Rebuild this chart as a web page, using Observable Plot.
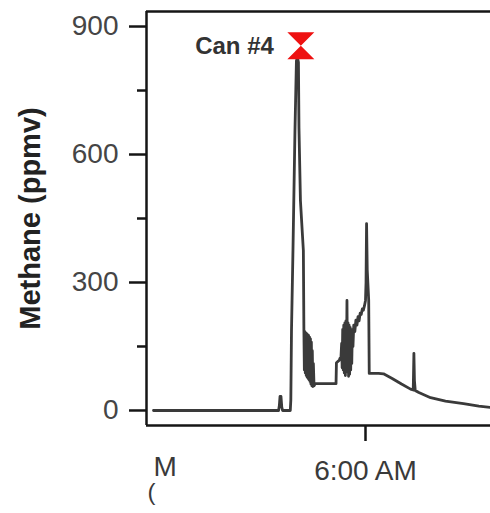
<!DOCTYPE html>
<html>
<head>
<meta charset="utf-8">
<script src="https://cdn.jsdelivr.net/npm/d3@7"></script>
<script src="https://cdn.jsdelivr.net/npm/@observablehq/plot@0.6"></script>
<style>
  html, body { margin: 0; padding: 0; background: #fff; }
  #chart { width: 490px; height: 513px; overflow: hidden; }
</style>
</head>
<body>
<div id="chart"></div>
<script>
// Time in minutes since midnight, methane in ppmv
const minutes = [201, 294.8, 295.4, 295.9, 296.6, 297.2, 297.8, 303.6, 304.0, 304.5, 305.6, 307.1, 308.2, 309.0, 309.7, 310.1, 311.2, 313.4, 313.8,
  314.15, 314.5, 314.85, 315.2, 315.55, 315.9, 316.25, 316.6, 316.95, 317.3, 317.65, 318.0, 318.35, 318.7, 319.05, 319.4, 319.75, 320.1, 320.5, 320.9, 321.4, 322.3,
  337.9, 338.2, 340.4, 340.8, 341.6, 342.1, 342.5, 342.9, 343.3, 343.7, 344.1, 344.5, 344.9, 345.3, 345.7, 346.1, 346.5, 346.9, 347.3, 347.7, 348.1, 348.5, 348.9, 349.3, 349.7, 350.1, 350.6, 351.2, 352.0, 352.8, 353.6, 354.4, 355.2, 356.0, 356.8, 357.6, 358.4, 359.2, 360.0, 360.4, 360.8, 361.3, 362.4, 362.8,
  369.8, 373.5, 380.0, 387.0, 393.8, 395.8, 396.3, 396.7, 397.3, 400.0, 408.8, 420.0, 433.5, 445.0, 453.75];
const methane = [0, 0, 12, 33, 33, 8, 0, 0, 25, 188, 375, 656, 820, 827, 816, 663, 492, 375, 188,
  95, 185, 88, 182, 82, 180, 78, 178, 75, 176, 72, 172, 68, 168, 62, 160, 58, 140, 56, 110, 58, 63,
  63, 112, 118, 122, 125, 157, 100, 190, 95, 200, 88, 205, 82, 210, 90, 258, 95, 205, 80, 200, 85, 195, 95, 190, 110, 185, 150, 200, 185, 212, 200, 220, 210, 228, 225, 238, 235, 245, 258, 300, 438, 330, 258, 87,
  87, 86, 75, 62, 50, 48, 134, 70, 47, 42, 30, 22, 16, 10, 7];

const yMajorTicks = [0, 300, 600, 900];
const yMinorTicks = [150, 450, 750];
const xTicks = [360];
const xTickLabels = ["6:00 AM"];
const canLabel = ["Can #4"];
const canTime = [311.5];
const canValue = [855];
const yTitle = "Methane (ppmv)";
const cutLabels = ["M", "("];

const data = minutes.map((m, i) => ({m, v: methane[i]}));
const cans = canLabel.map((t, i) => ({t, m: canTime[i], v: canValue[i]}));

const xDomain = [195.75, 453.75];
const yDomain = [-35.2, 935.2];

const hourglass = {
  draw(ctx, size) {
    const r = Math.sqrt(size / Math.PI);
    ctx.moveTo(-r, -r); ctx.lineTo(r, -r); ctx.lineTo(0, 0); ctx.closePath();
    ctx.moveTo(-r, r); ctx.lineTo(r, r); ctx.lineTo(0, 0); ctx.closePath();
  }
};

const font = "'Liberation Sans', Arial, Helvetica, sans-serif";
const axisColor = "#151515";

const chart = Plot.plot({
  width: 490,
  height: 513,
  marginLeft: 146,
  marginRight: 0,
  marginTop: 11,
  marginBottom: 88,
  style: {fontFamily: font, background: "#fff", overflow: "visible"},
  x: {domain: xDomain, type: "linear"},
  y: {domain: yDomain},
  marks: [
    Plot.axisY({ticks: yMajorTicks, tickSize: 17, tickPadding: 11, fontSize: 28, fill: "#454545", stroke: axisColor, strokeWidth: 2.5, label: null}),
    Plot.axisY({ticks: yMinorTicks, tickSize: 9, tickFormat: () => "", stroke: axisColor, strokeWidth: 2.5, label: null}),
    Plot.axisX({ticks: xTicks, tickSize: 16, tickPadding: 19, fontSize: 28, fill: "#3a3a3a", stroke: axisColor, strokeWidth: 2.5, label: null,
      tickFormat: (d) => xTickLabels[xTicks.indexOf(d)]}),
    Plot.ruleY([yDomain[1]], {stroke: axisColor, strokeWidth: 2.5}),
    Plot.ruleY([yDomain[0]], {stroke: axisColor, strokeWidth: 2.5}),
    Plot.ruleX([xDomain[0]], {stroke: axisColor, strokeWidth: 2.5}),
    Plot.line(data, {x: "m", y: "v", stroke: "#3a3a3a", strokeWidth: 2.8, strokeLinejoin: "round"}),
    Plot.dot(cans, {x: "m", y: "v", symbol: hourglass, r: 13.5, fill: "#ee1111", stroke: "none"}),
    Plot.text(cans, {x: "m", y: "v", text: "t", textAnchor: "end", dx: -27, dy: 1, fontSize: 24, fontWeight: "bold", fill: "#333"}),
    Plot.text([yTitle], {frameAnchor: "left", textAnchor: "middle", text: d => d, rotate: -90, dx: -116, fontSize: 29, fontWeight: "bold", fill: "#222"}),
    Plot.text([cutLabels[0]], {frameAnchor: "bottom-left", text: d => d, textAnchor: "start", dx: 7, dy: 50, fontSize: 28, fill: "#3a3a3a"}),
    Plot.text([cutLabels[1]], {frameAnchor: "bottom-left", text: d => d, textAnchor: "start", dx: 1, dy: 74, fontSize: 24, fill: "#3a3a3a"})
  ]
});
document.getElementById("chart").appendChild(chart);
</script>
</body>
</html>
